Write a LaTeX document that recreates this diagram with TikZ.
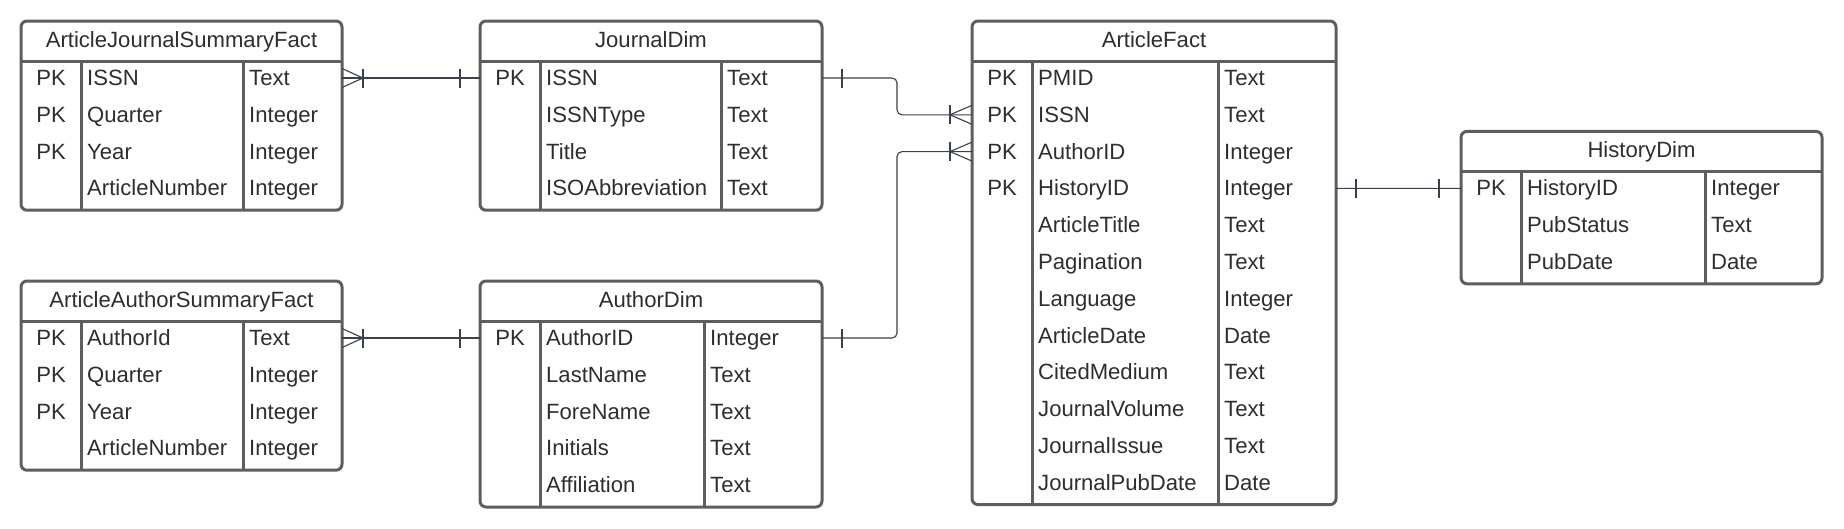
\documentclass[tikz,border=0pt]{standalone}
\usepackage{fontspec}
\setmainfont{Liberation Sans}
\definecolor{bordergray}{HTML}{5E5E5E}
\definecolor{txtgray}{HTML}{2E2E2E}
\definecolor{conngray}{HTML}{3A414A}
\tikzset{
 tbox/.style={draw=bordergray, line width=3pt, rounded corners=6pt, inner sep=0pt, outer sep=0pt, fill=white},
 tline/.style={draw=bordergray, line width=3pt},
 ttitle/.style={font=\fontsize{22.1}{26}\selectfont, text=txtgray, inner sep=0pt, text height=15.9pt, text depth=0pt},
 tcell/.style={ttitle, anchor=west},
 conn/.style={draw=conngray, line width=1.1pt},
}
\newcommand\ersetup[5]{\def\erL{#1}\def\erT{#2}\def\erR{#3}\def\erA{#4}\def\erB{#5}}
\newcommand\erbox[3]{%
  \pgfmathsetmacro\erH{42+36.8*#3}%
  \node[tbox, anchor=north west, minimum width={(\erR-\erL)*1pt}, minimum height={\erH*1pt}] (#1) at (\erL,\erT) {};
  \draw[tline] (\erL,\erT+40) -- (\erR,\erT+40);
  \draw[tline] (\erA,\erT+40) -- (\erA,\erT+\erH);
  \draw[tline] (\erB,\erT+40) -- (\erB,\erT+\erH);
  \node[ttitle] (#1-title) at ({(\erL+\erR)/2},\erT+18.5) {#2};
}
\newcommand\errow[4]{%
  \node[tcell] (#1-f#2) at (\erA+6,\erT+56.5+36.8*#2) {#3};
  \node[tcell] (#1-t#2) at (\erB+6,\erT+56.5+36.8*#2) {#4};
  \coordinate (#1-w#2) at (\erL,\erT+57+36.8*#2);
  \coordinate (#1-e#2) at (\erR,\erT+57+36.8*#2);
}
\newcommand\erpk[2]{\node[ttitle] (#1-pk#2) at ({(\erL+\erA)/2},\erT+56.5+36.8*#2) {PK};}
\newcommand\crowfoot[2]{% #1 coordinate, #2 signed length
  \draw[conn] ([yshift=9.5pt]#1) -- ([xshift=#2]#1) -- ([yshift=-9.5pt]#1);
  \draw[conn] ([xshift=#2,yshift=9.5pt]#1) -- ([xshift=#2,yshift=-9.5pt]#1);}
\newcommand\onebar[2]{\draw[conn] ([xshift=#2,yshift=9.5pt]#1) -- ([xshift=#2,yshift=-9.5pt]#1);}
\begin{document}
\begin{tikzpicture}[x=1pt,y=-1pt]
\useasboundingbox (0,0) rectangle (1844,528);
% ArticleJournalSummaryFact
\ersetup{21}{21}{342}{81}{243}
\erbox{ajsf}{ArticleJournalSummaryFact}{4}
\erpk{ajsf}{0}\erpk{ajsf}{1}\erpk{ajsf}{2}
\errow{ajsf}{0}{ISSN}{Text}
\errow{ajsf}{1}{Quarter}{Integer}
\errow{ajsf}{2}{Year}{Integer}
\errow{ajsf}{3}{ArticleNumber}{Integer}
% JournalDim
\ersetup{480}{21}{822}{540}{721}
\erbox{jd}{JournalDim}{4}
\erpk{jd}{0}
\errow{jd}{0}{ISSN}{Text}
\errow{jd}{1}{ISSNType}{Text}
\errow{jd}{2}{Title}{Text}
\errow{jd}{3}{ISOAbbreviation}{Text}
% ArticleAuthorSummaryFact
\ersetup{21}{281}{342}{81}{243}
\erbox{aasf}{ArticleAuthorSummaryFact}{4}
\erpk{aasf}{0}\erpk{aasf}{1}\erpk{aasf}{2}
\errow{aasf}{0}{AuthorId}{Text}
\errow{aasf}{1}{Quarter}{Integer}
\errow{aasf}{2}{Year}{Integer}
\errow{aasf}{3}{ArticleNumber}{Integer}
% AuthorDim
\ersetup{480}{281}{822}{540}{704}
\erbox{ad}{AuthorDim}{5}
\erpk{ad}{0}
\errow{ad}{0}{AuthorID}{Integer}
\errow{ad}{1}{LastName}{Text}
\errow{ad}{2}{ForeName}{Text}
\errow{ad}{3}{Initials}{Text}
\errow{ad}{4}{Affiliation}{Text}
% ArticleFact
\ersetup{972}{21}{1336}{1032}{1218}
\erbox{af}{ArticleFact}{12}
\erpk{af}{0}\erpk{af}{1}\erpk{af}{2}\erpk{af}{3}
\errow{af}{0}{PMID}{Text}
\errow{af}{1}{ISSN}{Text}
\errow{af}{2}{AuthorID}{Integer}
\errow{af}{3}{HistoryID}{Integer}
\errow{af}{4}{ArticleTitle}{Text}
\errow{af}{5}{Pagination}{Text}
\errow{af}{6}{Language}{Integer}
\errow{af}{7}{ArticleDate}{Date}
\errow{af}{8}{CitedMedium}{Text}
\errow{af}{9}{JournalVolume}{Text}
\errow{af}{10}{JournalIssue}{Text}
\errow{af}{11}{JournalPubDate}{Date}
% HistoryDim
\ersetup{1461}{131.4}{1822}{1521}{1705}
\erbox{hd}{HistoryDim}{3}
\erpk{hd}{0}
\errow{hd}{0}{HistoryID}{Integer}
\errow{hd}{1}{PubStatus}{Text}
\errow{hd}{2}{PubDate}{Date}
% connectors
\draw[conn] (ajsf-e0) -- (jd-w0);
\crowfoot{ajsf-e0}{21pt}
\onebar{jd-w0}{-20pt}
\draw[conn] (aasf-e0) -- (ad-w0);
\crowfoot{aasf-e0}{21pt}
\onebar{ad-w0}{-20pt}
\draw[conn, rounded corners=5pt] (jd-e0) -- ++(75,0) |- (af-w1);
\onebar{jd-e0}{20pt}
\crowfoot{af-w1}{-22pt}
\draw[conn, rounded corners=5pt] (ad-e0) -- ++(75,0) |- (af-w2);
\onebar{ad-e0}{20pt}
\crowfoot{af-w2}{-22pt}
\draw[conn] (af-e3) -- (hd-w0);
\onebar{af-e3}{20pt}
\onebar{hd-w0}{-22pt}
\end{tikzpicture}
\end{document}
